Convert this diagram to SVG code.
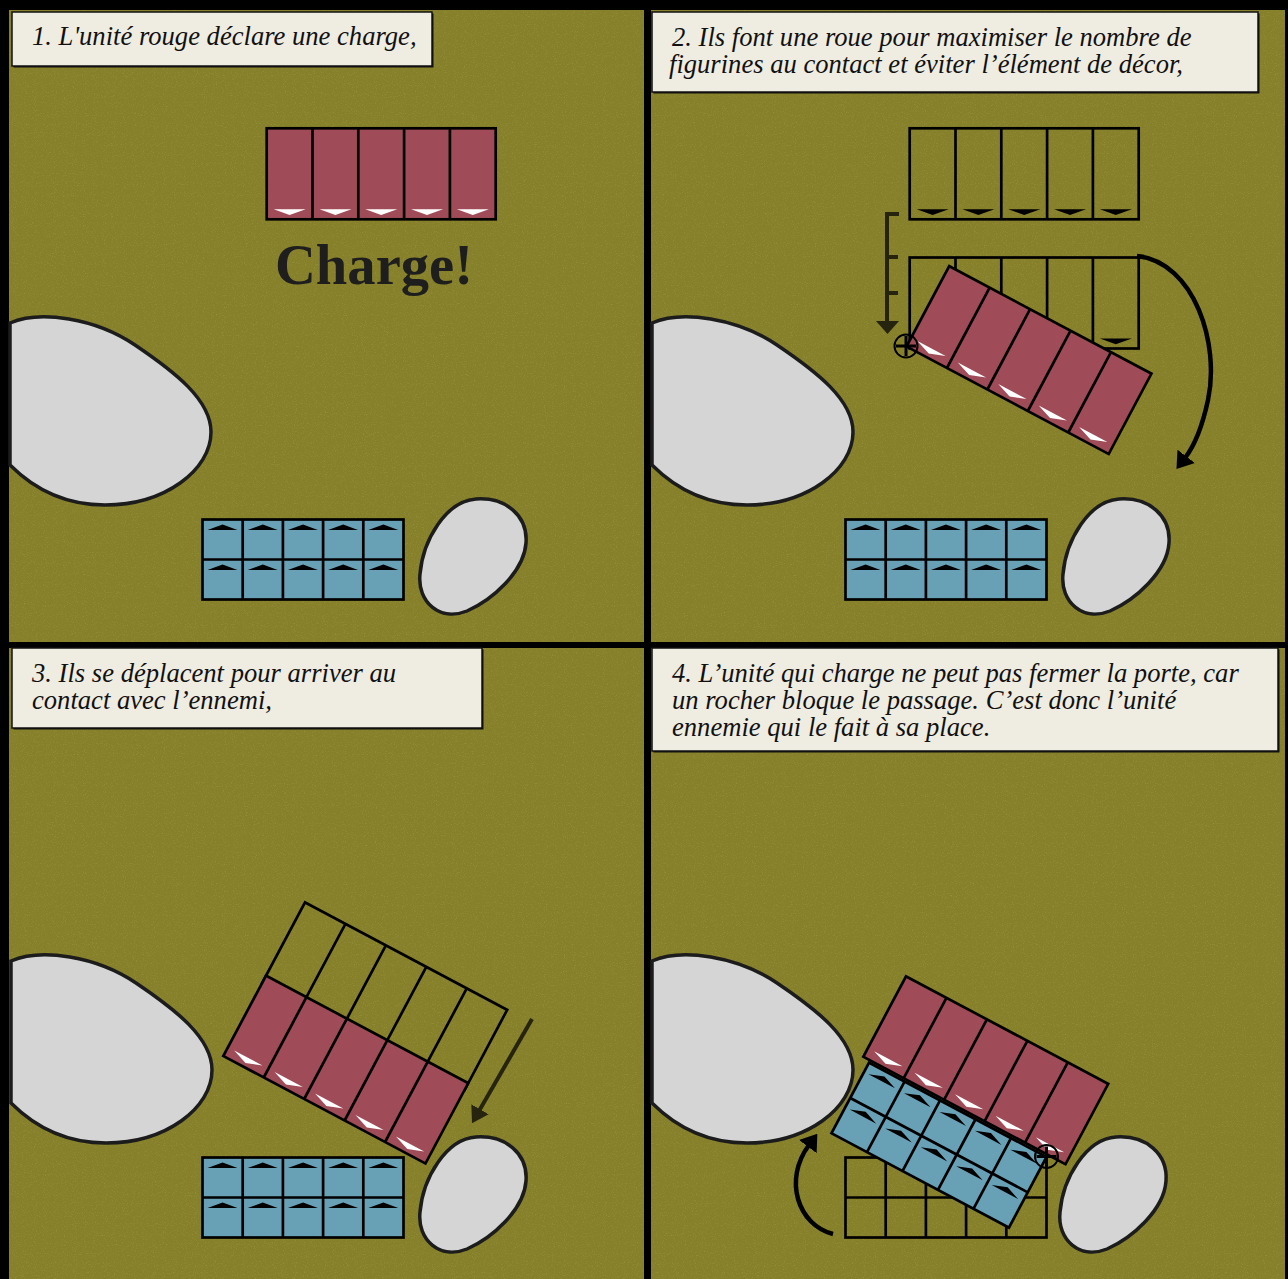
<svg xmlns="http://www.w3.org/2000/svg" xmlns:xlink="http://www.w3.org/1999/xlink" width="1288" height="1279" viewBox="0 0 1288 1279">
<style>
.panel{fill:#86802a}
.box{fill:#efece2;stroke:#111;stroke-width:1.5}
.boxsh{fill:#111}
.cap{font-family:"Liberation Serif","Times New Roman",serif;font-style:italic;font-size:26.6px;fill:#111}
.rock{fill:#d5d5d5;stroke:#1c1c1c;stroke-width:3.5}
.unit{stroke:#000;stroke-width:2.7;stroke-linejoin:miter}
.red{fill:#a04c58}
.blue{fill:#68a1b6}
.ghost{fill:none}
.wtri{fill:#fff}
.btri{fill:#000}
.arc{fill:none;stroke:#000;stroke-width:4.5}
.dark{fill:none;stroke:#26240f;stroke-width:4}
</style>
<defs>
<filter id="grain" x="0" y="0" width="100%" height="100%">
<feTurbulence type="fractalNoise" baseFrequency="0.9" numOctaves="2" seed="3" result="n"/>
<feColorMatrix type="matrix" values="0 0 0 0 0.75  0 0 0 0 0.72  0 0 0 0 0.35  0 0 0 1.4 -0.75"/>
</filter>
<marker id="ahB" viewBox="0 0 16 22" refX="2" refY="11" markerWidth="16" markerHeight="22" orient="auto" markerUnits="userSpaceOnUse"><path d="M0 0 L16 11 L0 22 z" fill="#000"/></marker>
<marker id="ahD" viewBox="0 0 16 20" refX="2" refY="10" markerWidth="16" markerHeight="20" orient="auto" markerUnits="userSpaceOnUse"><path d="M0 0 L16 10 L0 20 z" fill="#26240f"/></marker>
<path id="bigRock" d="M 10 323 C 40 310, 95 318, 135 345 C 175 372, 211 400, 211 432 C 211 470, 165 505, 105 505 C 62 505, 32 487, 10 465 Z"/>
<path id="smallRock" d="M 476 499 C 506 497, 528 516, 526 543 C 524 572, 492 600, 467 611 C 440 622, 417 602, 420 574 C 423 540, 446 501, 476 499 Z"/>
<g id="redUnit">
<rect class="unit red" x="0" y="0" width="229" height="91"/>
<path class="unit" fill="none" d="M45.8 0V91M91.6 0V91M137.4 0V91M183.2 0V91"/>
<path class="wtri" d="M7 81L39 81L22.9 86.7zM52.8 81L84.8 81L68.7 86.7zM98.6 81L130.6 81L114.5 86.7zM144.4 81L176.4 81L160.3 86.7zM190.2 81L222.2 81L206.1 86.7z"/>
</g>
<g id="ghostCols">
<rect class="unit ghost" x="0" y="0" width="229" height="91"/>
<path class="unit" fill="none" d="M45.8 0V91M91.6 0V91M137.4 0V91M183.2 0V91"/>
</g>
<g id="blueUnit">
<rect class="unit blue" x="0" y="0" width="201" height="80"/>
<path class="unit" fill="none" d="M40.2 0V80M80.4 0V80M120.6 0V80M160.8 0V80M0 40H201"/>
<path class="btri" d="M5 10.5L35 10.5L20.1 5zM45.2 10.5L75.2 10.5L60.3 5zM85.4 10.5L115.4 10.5L100.5 5zM125.6 10.5L155.6 10.5L140.7 5zM165.8 10.5L195.8 10.5L180.9 5zM5 50.5L35 50.5L20.1 45zM45.2 50.5L75.2 50.5L60.3 45zM85.4 50.5L115.4 50.5L100.5 45zM125.6 50.5L155.6 50.5L140.7 45zM165.8 50.5L195.8 50.5L180.9 45z"/>
</g>
<g id="pivot">
<circle r="11.5" fill="none" stroke="#000" stroke-width="2"/>
<path d="M-10 0H10M0 -10V10" stroke="#000" stroke-width="3"/>
</g>
</defs>

<rect x="0" y="0" width="1288" height="1279" fill="#000"/>

<g id="panel1">
<rect class="panel" x="9" y="10" width="635" height="632"/>
<rect x="9" y="10" width="635" height="632" filter="url(#grain)" opacity="0.35"/>
</g>
<g id="panel2">
<rect class="panel" x="651" y="10" width="634" height="632"/>
<rect x="651" y="10" width="634" height="632" filter="url(#grain)" opacity="0.35"/>
</g>
<g id="panel3">
<rect class="panel" x="9" y="648" width="635" height="631"/>
<rect x="9" y="648" width="635" height="631" filter="url(#grain)" opacity="0.35"/>
</g>
<g id="panel4">
<rect class="panel" x="651" y="648" width="634" height="631"/>
<rect x="651" y="648" width="634" height="631" filter="url(#grain)" opacity="0.35"/>
</g>

<!-- Panel 1 -->
<g id="p1-rock-big"><use href="#bigRock" class="rock"/></g>
<g id="p1-rock-small"><use href="#smallRock" class="rock"/></g>
<g id="p1-red"><use href="#redUnit" transform="translate(266.7,128.3)"/></g>
<g id="p1-blue"><use href="#blueUnit" transform="translate(202.5,519.5)"/></g>
<g id="p1-charge"><text x="275" y="284" font-family="'Liberation Serif','Times New Roman',serif" font-weight="bold" font-size="58" textLength="198" lengthAdjust="spacingAndGlyphs" fill="#1e1e1e">Charge!</text></g>
<g id="p1-caption">
<rect class="boxsh" x="13.5" y="13.5" width="420" height="54"/>
<rect class="box" x="12" y="12" width="420" height="54"/>
<text class="cap" x="32" y="45">1. L'unité rouge déclare une charge,</text>
</g>

<!-- Panel 2 -->
<g id="p2-rock-big"><use href="#bigRock" class="rock" transform="translate(642,0)"/></g>
<g id="p2-rock-small"><use href="#smallRock" class="rock" transform="translate(643,0)"/></g>
<g id="p2-blue"><use href="#blueUnit" transform="translate(845.5,519.5)"/></g>
<g id="p2-start">
<use href="#ghostCols" transform="translate(909.7,128.3)"/>
<path class="btri" transform="translate(909.7,128.3)" d="M7 81L39 81L22.9 86.7zM52.8 81L84.8 81L68.7 86.7zM98.6 81L130.6 81L114.5 86.7zM144.4 81L176.4 81L160.3 86.7zM190.2 81L222.2 81L206.1 86.7z"/>
</g>
<g id="p2-advanced">
<use href="#ghostCols" transform="translate(909.7,257.5)"/>
<path class="btri" transform="translate(909.7,257.5)" d="M190.2 81L222.2 81L206.1 86.7z"/>
</g>
<g id="p2-red"><use href="#redUnit" transform="translate(906.5,346.5) rotate(28) translate(0,-91)"/></g>
<g id="p2-pivot"><use href="#pivot" transform="translate(906,346)"/></g>
<g id="p2-caption">
<rect class="boxsh" x="653.5" y="13.5" width="606" height="80"/>
<rect class="box" x="652" y="12" width="606" height="80"/>
<text class="cap" x="672" y="46">2. Ils font une roue pour maximiser le nombre de</text>
<text class="cap" x="669" y="73">figurines au contact et éviter l’élément de décor,</text>
</g>

<!-- Panel 3 -->
<g id="p3-rock-big"><use href="#bigRock" class="rock" transform="translate(1,638)"/></g>
<g id="p3-rock-small"><use href="#smallRock" class="rock" transform="translate(0,638)"/></g>
<g id="p3-blue"><use href="#blueUnit" transform="translate(202.5,1157.5)"/></g>
<g id="p3-start"><use href="#ghostCols" transform="translate(223.3,1056) rotate(28) translate(0,-174)"/></g>
<g id="p3-red"><use href="#redUnit" transform="translate(223.3,1056) rotate(28) translate(0,-91)"/></g>
<g id="p3-caption">
<rect class="boxsh" x="13.5" y="649.5" width="470" height="80"/>
<rect class="box" x="12" y="648" width="470" height="80"/>
<text class="cap" x="32" y="682">3. Ils se déplacent pour arriver au</text>
<text class="cap" x="32" y="709">contact avec l’ennemi,</text>
</g>

<!-- Panel 4 -->
<g id="p4-rock-big"><use href="#bigRock" class="rock" transform="translate(642,638)"/></g>
<g id="p4-rock-small"><use href="#smallRock" class="rock" transform="translate(640,638)"/></g>
<g id="p4-blue-start">
<rect class="unit ghost" x="845.5" y="1157.5" width="201" height="80"/>
<path class="unit" fill="none" d="M885.7 1157.5V1237.5M925.9 1157.5V1237.5M966.1 1157.5V1237.5M1006.3 1157.5V1237.5M845.5 1197.5H1046.5"/>
</g>
<g id="p4-blue"><use href="#blueUnit" transform="translate(1046.5,1157) rotate(28) translate(-201,0)"/></g>
<g id="p4-red"><use href="#redUnit" transform="translate(863.3,1056.7) rotate(28) translate(0,-91)"/></g>
<g id="p4-pivot"><use href="#pivot" transform="translate(1046.5,1156.5)"/></g>
<g id="p4-caption">
<rect class="boxsh" x="653.5" y="649.5" width="626" height="103"/>
<rect class="box" x="652" y="648" width="626" height="103"/>
<text class="cap" x="672" y="682">4. L’unité qui charge ne peut pas fermer la porte, car</text>
<text class="cap" x="672" y="709">un rocher bloque le passage. C’est donc l’unité</text>
<text class="cap" x="672" y="736">ennemie qui le fait à sa place.</text>
</g>

<g id="connectors">
<g id="p2-measure">
<path class="dark" d="M887 214V322M885 214H899M885 257H898M885 293H898"/>
<path d="M876 321L899 321L887.5 334z" fill="#26240f"/>
</g>
<path id="p2-wheel" class="arc" d="M1137 256 C1195 262, 1220 345, 1208 400 C1202 428, 1195 445, 1185 458" marker-end="url(#ahB)"/>
<path id="p3-move" class="dark" d="M532 1019 L479 1111" marker-end="url(#ahD)"/>
<path id="p4-wheel" class="arc" d="M833 1234 C798 1225, 783 1180, 809 1145" marker-end="url(#ahB)"/>
</g>
</svg>
